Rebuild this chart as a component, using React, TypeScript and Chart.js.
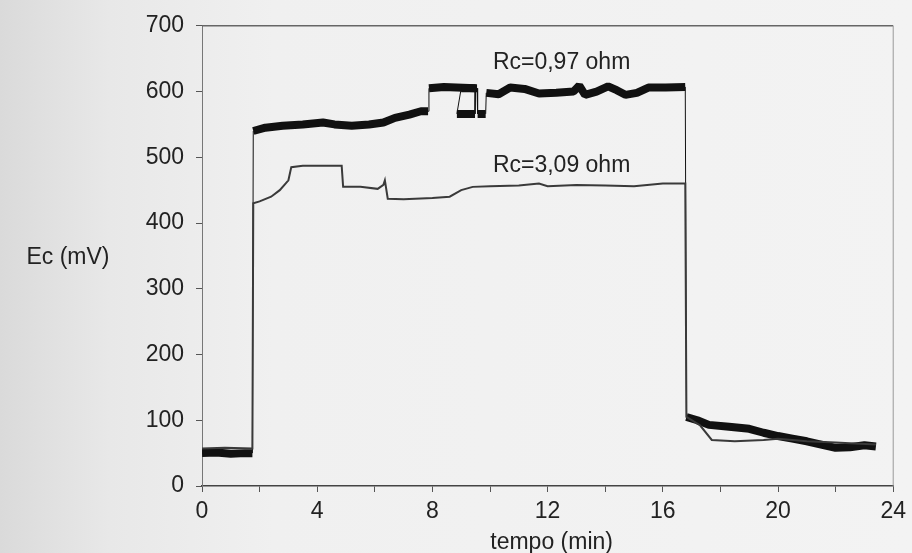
import React, { useEffect, useRef } from "react";
import { Chart, registerables } from "chart.js";

Chart.register(...registerables);

// Rc = 0,97 ohm (thick trace)
const s1Time = [0, 0.5, 1.0, 1.5, 1.75, 1.78, 2.2, 2.8, 3.5, 4.2, 4.6, 5.2, 5.8, 6.3, 6.7, 7.2, 7.6, 7.85, 7.88, 8.4, 9.5, 9.48, 8.85, 9.0, 9.55, 9.57, 9.85, 9.87, 10.3, 10.7, 11.2, 11.7, 12.3, 12.9, 13.1, 13.3, 13.7, 14.1, 14.4, 14.7, 15.1, 15.5, 16.1, 16.78, 16.82, 17.2, 17.6, 18.3, 19.0, 19.5, 20.0, 20.5, 21.0, 21.5, 22.0, 22.5, 23.0, 23.4];
const s1Values = [50, 51, 49, 50, 50, 540, 545, 548, 550, 553, 550, 548, 550, 553, 560, 565, 570, 570, 605, 607, 605, 566, 566, 605, 605, 566, 566, 598, 596, 606, 604, 597, 598, 600, 609, 595, 600, 608, 602, 595, 598, 606, 606, 607, 105, 100, 93, 90, 87, 81, 76, 72, 68, 63, 58, 59, 62, 60];

// Rc = 3,09 ohm (thin trace)
const s2Time = [0, 0.8, 1.75, 1.78, 2.0, 2.4, 2.7, 3.0, 3.1, 3.5, 4.0, 4.85, 4.9, 5.5, 6.1, 6.3, 6.35, 6.45, 7.0, 8.0, 8.6, 9.0, 9.4, 10.0, 11.0, 11.7, 12.0, 13.0, 14.0, 15.0, 16.0, 16.78, 16.82, 17.3, 17.7, 18.5, 19.5, 20.0, 21.0, 22.0, 22.5, 23.4];
const s2Values = [57, 58, 57, 430, 433, 440, 450, 465, 485, 487, 487, 487, 455, 455, 452, 458, 465, 437, 436, 438, 440, 450, 455, 456, 457, 460, 456, 458, 457, 456, 460, 460, 105, 92, 70, 68, 70, 72, 68, 66, 65, 63];

const xTicks = [0, 4, 8, 12, 16, 20, 24];
const yTicks = [0, 100, 200, 300, 400, 500, 600, 700];
const seriesLabels = ["Rc=0,97 ohm", "Rc=3,09 ohm"];
const xTitle = "tempo (min)";
const yTitle = "Ec (mV)";

const FONT = '"Liberation Sans", Arial, Helvetica, sans-serif';

export default function App() {
  const ref = useRef<HTMLCanvasElement | null>(null);

  useEffect(() => {
    const canvas = ref.current;
    if (!canvas) return;

    const textPlugin = {
      id: "texts",
      afterDraw(chart: any) {
        const { ctx, chartArea, scales } = chart;
        ctx.save();
        ctx.strokeStyle = "#666";
        ctx.lineWidth = 1.5;
        ctx.beginPath();
        ctx.moveTo(chartArea.left, chartArea.top);
        ctx.lineTo(chartArea.right, chartArea.top);
        ctx.stroke();
        ctx.strokeStyle = "#999";
        ctx.lineWidth = 1;
        ctx.beginPath();
        ctx.moveTo(chartArea.right, chartArea.top);
        ctx.lineTo(chartArea.right, chartArea.bottom);
        ctx.stroke();

        ctx.fillStyle = "#222";
        ctx.font = `23px ${FONT}`;
        ctx.textBaseline = "middle";
        ctx.textAlign = "left";
        const xs = scales.x;
        const ys = scales.y;
        ctx.fillText(seriesLabels[0], xs.getPixelForValue(10.1), ys.getPixelForValue(644));
        ctx.fillText(seriesLabels[1], xs.getPixelForValue(10.1), ys.getPixelForValue(487));
        ctx.textAlign = "center";
        ctx.fillText(yTitle, 68, 258);
        ctx.fillText(xTitle, (chartArea.left + chartArea.right) / 2 + 4, 543);
        ctx.restore();
      },
    };

    const thickWidth = (c: any) => {
      const dy = Math.abs(c.p1.y - c.p0.y);
      const dx = Math.abs(c.p1.x - c.p0.x);
      return dy > 12 && dy > dx ? 1 : 8;
    };

    const chart = new Chart(canvas, {
      type: "line",
      data: {
        datasets: [
          {
            label: seriesLabels[0],
            data: s1Time.map((t, i) => ({ x: t, y: s1Values[i] })),
            borderColor: "#111",
            borderWidth: 8,
            borderCapStyle: "butt",
            borderJoinStyle: "bevel",
            pointRadius: 0,
            tension: 0,
            order: 2,
            segment: { borderWidth: thickWidth },
          },
          {
            label: seriesLabels[1],
            data: s2Time.map((t, i) => ({ x: t, y: s2Values[i] })),
            borderColor: "#3a3a3a",
            borderWidth: 2,
            pointRadius: 0,
            tension: 0,
            order: 1,
          },
        ],
      },
      options: {
        animation: false,
        responsive: true,
        maintainAspectRatio: false,
        layout: { padding: { top: 24, right: 17, left: 0, bottom: 0 } },
        plugins: { legend: { display: false }, tooltip: { enabled: false } },
        scales: {
          x: {
            type: "linear",
            min: 0,
            max: 24,
            afterFit: (s: any) => {
              s.height = 67;
            },
            afterBuildTicks: (s: any) => {
              const arr = [];
              for (let v = 0; v <= 24; v += 2) arr.push({ value: v });
              s.ticks = arr;
            },
            ticks: {
              autoSkip: false,
              maxRotation: 0,
              padding: 6,
              color: "#222",
              font: { family: FONT, size: 23 },
              callback: (v: any) => (xTicks.includes(Number(v)) ? String(v) : ""),
            },
            grid: { display: true, drawOnChartArea: false, drawTicks: true, tickLength: 6, color: "#555", lineWidth: 1 },
            border: { display: true, color: "#444", width: 1.5 },
          },
          y: {
            type: "linear",
            min: 0,
            max: 700,
            afterFit: (s: any) => {
              s.width = 202;
            },
            afterBuildTicks: (s: any) => {
              s.ticks = yTicks.map((v) => ({ value: v }));
            },
            ticks: {
              padding: 12,
              color: "#222",
              font: { family: FONT, size: 23 },
            },
            grid: { display: true, drawOnChartArea: false, drawTicks: true, tickLength: 6, color: "#555", lineWidth: 1 },
            border: { display: true, color: "#777", width: 1, dash: [3, 3] },
          },
        },
      },
      plugins: [textPlugin],
    } as any);

    return () => chart.destroy();
  }, []);

  return (
    <div
      style={{
        position: "fixed",
        left: 0,
        top: 0,
        width: 912,
        height: 553,
        background: "linear-gradient(to right, #dadada 0%, #e8e8e8 12%, #f0f0f0 30%, #f3f3f3 100%)",
      }}
    >
      <canvas ref={ref} />
    </div>
  );
}
